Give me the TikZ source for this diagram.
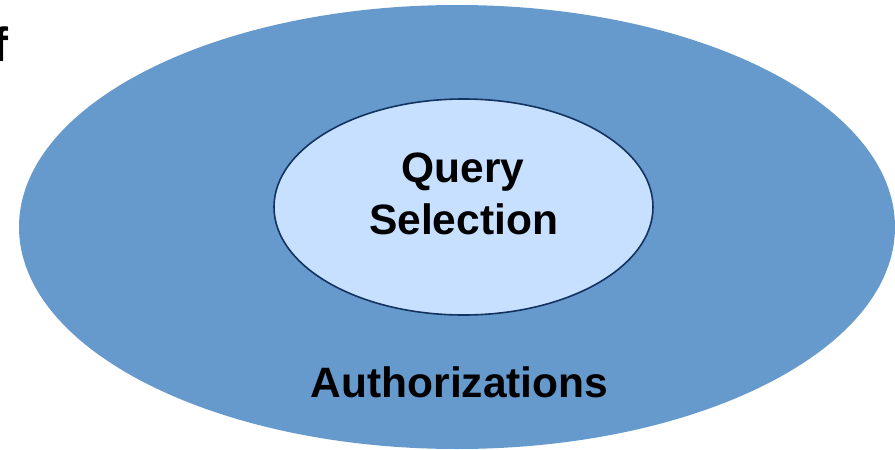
\documentclass[tikz,border=0pt]{standalone}
\usepackage{fontspec}
\setmainfont{Liberation Sans}
\definecolor{outerblue}{RGB}{102,153,204}
\definecolor{innerblue}{RGB}{199,224,255}
\definecolor{edgenavy}{RGB}{20,50,95}
\begin{document}
\begin{tikzpicture}[x=1pt,y=-1pt,
  lbl/.style={font=\fontsize{42.5}{52}\selectfont\bfseries, text=black, inner sep=0pt, align=center}]
\useasboundingbox (0,0) rectangle (895,450);
\fill[outerblue] (457,227) ellipse [x radius=438, y radius=222];
\filldraw[fill=innerblue, draw=edgenavy, line width=1.6pt] (463.5,207) ellipse [x radius=189.5, y radius=108];
\node[lbl, anchor=base] (query) at (463,182) {Query};
\node[lbl, anchor=base] (sel) at (463.5,234) {Selection};
\node[lbl, anchor=base] (auth) at (459.5,397) {Authorizations};
\node[font=\fontsize{48}{52}\selectfont\bfseries, inner sep=0pt, anchor=base east] (f) at (9,61) {f};
\end{tikzpicture}
\end{document}
